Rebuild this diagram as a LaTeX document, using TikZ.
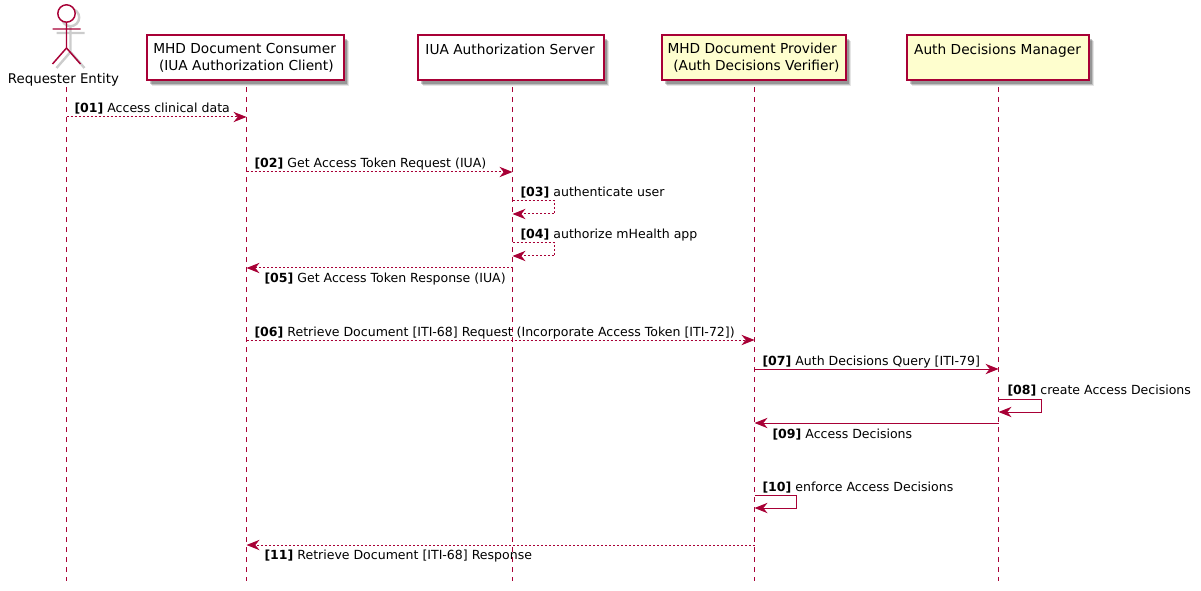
\documentclass[tikz,border=0pt]{standalone}
\usepackage{fontspec}
\setmainfont{DejaVu Sans}
\usetikzlibrary{arrows.meta,shadows}

\definecolor{umlred}{RGB}{168,0,54}
\definecolor{umlyellow}{RGB}{254,254,206}

\tikzset{every picture/.style={line width=0.75pt}}
\tikzset{
  softshade/.style={drop shadow={shadow xshift=4pt,shadow yshift=-4pt,opacity=0.1,fill=black},
                    drop shadow={shadow xshift=3.3pt,shadow yshift=-3.3pt,opacity=0.16,fill=black},
                    drop shadow={shadow xshift=2.6pt,shadow yshift=-2.6pt,opacity=0.22,fill=black}},
  partbox/.style={draw=umlred,line width=1.5pt,fill=white,softshade,inner xsep=0pt,inner ysep=0pt,
                  minimum height=33.75pt,align=left,font=\fontsize{10.3}{12.5}\selectfont},
  provbox/.style={partbox,fill=umlyellow},
  lifeline/.style={draw=umlred,dash pattern={on 3.75pt off 3.75pt}},
  msgtip/.style={-{Stealth[length=9.8pt,width=7.8pt,inset=3.2pt,color=umlred]}},
  msgsolid/.style={draw=umlred,msgtip},
  msgdot/.style={draw=umlred,msgtip,dash pattern={on 1.5pt off 1.5pt}},
  msglabel/.style={anchor=base west,inner sep=0pt,font=\fontsize{9.4}{11}\selectfont},
  actorline/.style={draw=umlred,line width=1.1pt},
  actorshade/.style={draw=black,draw opacity=0.2,line width=1.8pt,shift={(4,4)}}
}
\newcommand{\actorfig}{(66.5,13.5) circle [radius=8.7] (66.5,22.2) -- (66.5,48) (52.5,29) -- (80.5,29) (52.5,64) -- (66.5,48) -- (80.5,64)}

\begin{document}
\begin{tikzpicture}[x=0.75pt,y=0.75pt,yscale=-1,xscale=1]
\useasboundingbox (0,0) rectangle (1201,591);

% Lifelines
\coordinate (reqtop) at (66.5,87);
\coordinate (reqend) at (66.5,581);
\coordinate (contop) at (246.5,87);
\coordinate (conend) at (246.5,581);
\coordinate (iuatop) at (512.5,87);
\coordinate (iuaend) at (512.5,581);
\coordinate (provtop) at (754.5,87);
\coordinate (provend) at (754.5,581);
\coordinate (mgrtop) at (998.5,87);
\coordinate (mgrend) at (998.5,581);
\draw [lifeline] (reqtop) -- (reqend);
\draw [lifeline] (contop) -- (conend);
\draw [lifeline] (iuatop) -- (iuaend);
\draw [lifeline] (provtop) -- (provend);
\draw [lifeline] (mgrtop) -- (mgrend);

% Actor
\draw [actorshade] \actorfig;
\draw [actorline,fill=white] (66.5,13.5) circle [radius=8.7];
\draw [actorline] (66.5,22.2) -- (66.5,48) (52.5,29) -- (80.5,29) (52.5,64) -- (66.5,48) -- (80.5,64);
\draw (63.5,83.5) node [anchor=base,inner sep=0pt,font=\fontsize{10}{12.5}\selectfont] (req) {Requester Entity};

% Participants
\node [partbox,minimum width=147.75pt] (consumer) at (245,58) {\hspace*{-0.6pt}MHD Document Consumer\\\hspace*{3.7pt}(IUA Authorization Client)};
\node [partbox,minimum width=139.5pt] (iua) at (510.5,58) {\hspace*{-0.6pt}IUA Authorization Server\\\mbox{}};
\node [provbox,minimum width=138pt] (provider) at (753.5,58) {MHD Document Provider\\\hspace*{4.3pt}(Auth Decisions Verifier)};
\node [provbox,minimum width=136.5pt] (manager) at (997.5,58) {Auth Decisions Manager\\\mbox{}};

% Message levels
\coordinate (m01) at (0,117);
\coordinate (m02) at (0,172);
\coordinate (m03a) at (554.5,201);
\coordinate (m03b) at (554.5,214);
\coordinate (m04a) at (554.5,243);
\coordinate (m04b) at (554.5,256);
\coordinate (m05) at (0,268);
\coordinate (m06) at (0,340);
\coordinate (m07) at (0,369);
\coordinate (m08a) at (1041.5,399);
\coordinate (m08b) at (1041.5,412);
\coordinate (m09) at (0,423);
\coordinate (m10a) at (796.5,495);
\coordinate (m10b) at (796.5,508);
\coordinate (m11) at (0,545);

% Messages
\draw [msgdot] (reqtop |- m01) -- (contop |- m01);
\draw [msgdot] (contop |- m02) -- (iuatop |- m02);
\draw [msgdot] (iuatop |- m03a) -- (m03a) -- (m03b) -- (iuatop |- m03b);
\draw [msgdot] (iuatop |- m04a) -- (m04a) -- (m04b) -- (iuatop |- m04b);
\draw [msgdot] (iuatop |- m05) -- (contop |- m05);
\draw [msgdot] (contop |- m06) -- (provtop |- m06);
\draw [msgsolid] (provtop |- m07) -- (mgrtop |- m07);
\draw [msgsolid] (mgrtop |- m08a) -- (m08a) -- (m08b) -- (mgrtop |- m08b);
\draw [msgsolid] (mgrtop |- m09) -- (provtop |- m09);
\draw [msgsolid] (provtop |- m10a) -- (m10a) -- (m10b) -- (provtop |- m10b);
\draw [msgdot] (provtop |- m11) -- (contop |- m11);

% Text Node
\draw (74,113) node [msglabel] (lab01) {\textbf{[01]} Access clinical data};
% Text Node
\draw (254,168) node [msglabel] (lab02) {\textbf{[02]} Get Access Token Request (IUA)};
% Text Node
\draw (520,197) node [msglabel] (lab03) {\textbf{[03]} authenticate user};
% Text Node
\draw (520,239) node [msglabel] (lab04) {\textbf{[04]} authorize mHealth app};
% Text Node
\draw (264,282) node [msglabel] (lab05) {\textbf{[05]} Get Access Token Response (IUA)};
% Text Node
\draw (254,336) node [msglabel] (lab06) {\textbf{[06]} Retrieve Document [ITI-68] Request (Incorporate Access Token [ITI-72])};
% Text Node
\draw (762,365) node [msglabel] (lab07) {\textbf{[07]} Auth Decisions Query [ITI-79]};
% Text Node
\draw (1007,394) node [msglabel] (lab08) {\textbf{[08]} create Access Decisions};
% Text Node
\draw (772,438) node [msglabel] (lab09) {\textbf{[09]} Access Decisions};
% Text Node
\draw (762,491) node [msglabel] (lab10) {\textbf{[10]} enforce Access Decisions};
% Text Node
\draw (264,559) node [msglabel] (lab11) {\textbf{[11]} Retrieve Document [ITI-68] Response};

\end{tikzpicture}
\end{document}
